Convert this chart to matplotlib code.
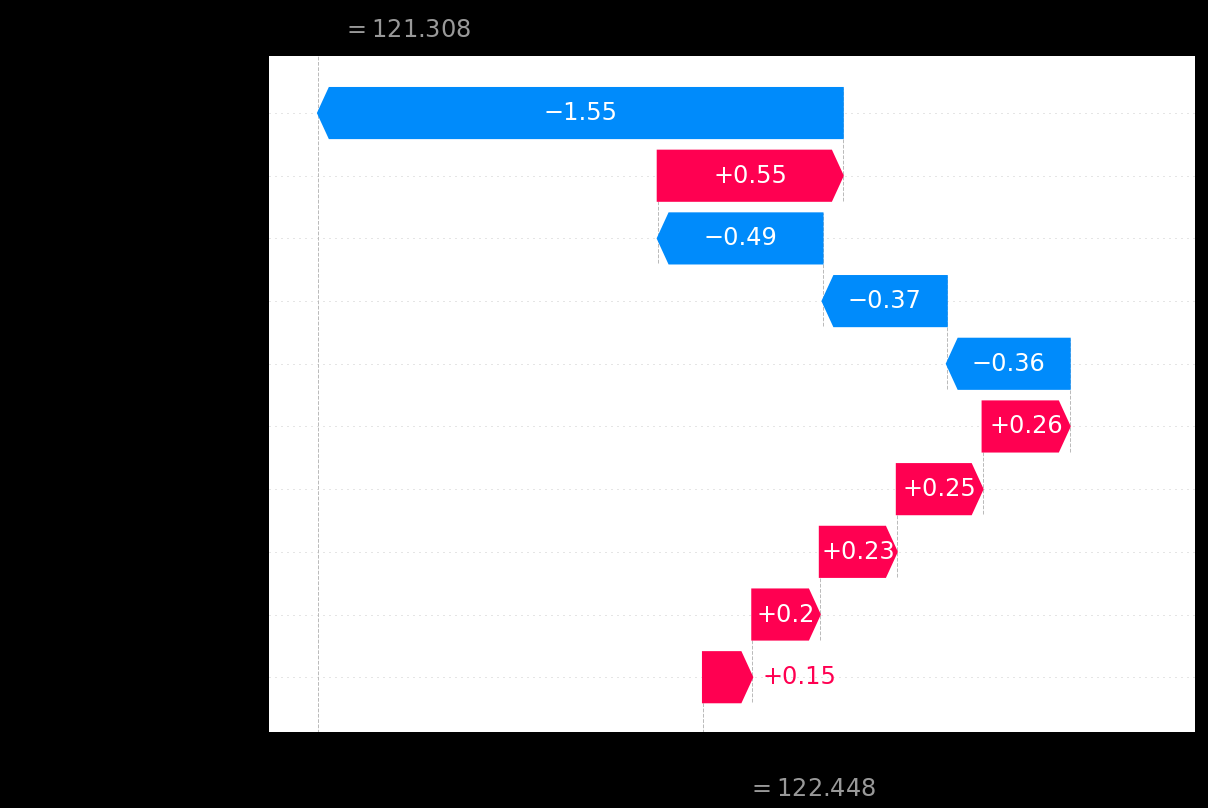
import matplotlib
matplotlib.use('Agg')
import matplotlib.pyplot as plt
import matplotlib.transforms as mtransforms
import numpy as np

FEATURE_NAMES = ['Feature 7', 'Feature 25', 'Feature 5', 'Feature 24', 'Feature 9',
                 'Feature 4', 'Feature 19', 'Feature 18', 'Feature 3', '21 other features']
# bar lengths (labels round them to 2 decimals)
SHAP_VALUES = [-1.554, 0.548, -0.488, -0.368, -0.364, 0.258, 0.254, 0.228, 0.2, 0.146]
BASE_VALUE = 122.448   # E[f(X)]
FX_VALUE = 121.308     # f(x)

# --- Style ---
RED = '#ff0051'
BLUE = '#008bfb'
DPI = 144
X_LIMITS = (121.163, 123.905)


def format_value(v, fmt):
    s = fmt % v
    if '.' in s:
        s = s.rstrip('0')
        if s.endswith('.'):
            s = s[:-1]
    return s.replace('-', '\u2212')


fig = plt.figure(figsize=(1208 / DPI, 808 / DPI), dpi=DPI, facecolor='black')
ax = fig.add_axes([269 / 1208, 75 / 808, 926 / 1208, 677 / 808])

num_rows = len(FEATURE_NAMES)
# top feature is drawn on the highest row
rows = np.arange(num_rows)[::-1]
values = np.array(SHAP_VALUES)

# bars start from the base value at the bottom and stack upward
starts = np.zeros(num_rows)
loc = BASE_VALUE
for i in range(num_rows - 1, -1, -1):
    starts[i] = loc
    loc += values[i]
fx_pos = loc

ax.set_xlim(*X_LIMITS)
ax.set_ylim(-0.89, num_rows - 1 + 0.91)

# horizontal dotted guides
for r in rows:
    ax.axhline(r, color='#cccccc', lw=0.5, dashes=(1, 5), zorder=-1)

# arrow geometry
bar_width = 0.8
head_length = 0.08
xlen = X_LIMITS[1] - X_LIMITS[0]
bbox = ax.get_window_extent().transformed(fig.dpi_scale_trans.inverted())
bbox_to_xscale = xlen / bbox.width
hl_scaled = bbox_to_xscale * head_length
renderer = fig.canvas.get_renderer()

for i in range(num_rows):
    v = values[i]
    dist = abs(v)
    color = RED if v > 0 else BLUE
    direction = 1 if v > 0 else -1
    arrow_obj = ax.arrow(starts[i], rows[i], direction * max(dist - hl_scaled, 0.000001), 0,
                         head_length=min(dist, hl_scaled), color=color,
                         width=bar_width, head_width=bar_width)

    label = format_value(v, '%+0.02f')
    txt_obj = ax.text(starts[i] + 0.5 * v, rows[i], label, ha='center', va='center',
                      color='white', fontsize=12)
    text_bbox = txt_obj.get_window_extent(renderer=renderer)
    arrow_bbox = arrow_obj.get_window_extent(renderer=renderer)
    # text does not fit: put it after the arrow tip
    if text_bbox.width > arrow_bbox.width:
        txt_obj.remove()
        if v > 0:
            ax.text(starts[i] + v + (5 / 72) * bbox_to_xscale, rows[i], label,
                    ha='left', va='center', color=color, fontsize=12)
        else:
            ax.text(starts[i] + v - (5 / 72) * bbox_to_xscale, rows[i], label,
                    ha='right', va='center', color=color, fontsize=12)

    # dashed connector between this bar and the one below
    if i < num_rows - 1:
        ax.plot([starts[i], starts[i]], [rows[i] - 1 - 0.4, rows[i] + 0.4],
                color='#bbbbbb', linestyle='--', linewidth=0.5, zorder=-1)

# base value and f(x) lines
ax.axvline(BASE_VALUE, 0, 1 / num_rows, color='#bbbbbb', linestyle='--', linewidth=0.5, zorder=-1)
ax.axvline(fx_pos, 0, 1, color='#bbbbbb', linestyle='--', linewidth=0.5, zorder=-1)

ax.set_yticks(rows)
ax.set_yticklabels(FEATURE_NAMES, fontsize=13)
ax.xaxis.set_ticks_position('bottom')
ax.yaxis.set_ticks_position('none')
for side in ['right', 'top', 'left']:
    ax.spines[side].set_visible(False)
ax.tick_params(labelsize=13)
# numeric x labels are not visible in the reference (dark on dark)
ax.set_xticklabels([])

# E[f(X)] tick label (ends up on the bottom once ax3 is twinned off ax2)
ax2 = ax.twiny()
ax2.set_xlim(*X_LIMITS)
ax2.set_xticks([BASE_VALUE, BASE_VALUE + 1e-8])
ax2.set_xticklabels(['\n$E[f(X)]$', '\n$ = ' + format_value(BASE_VALUE, '%0.03f') + '$'],
                    fontsize=12, ha='left')
for side in ['right', 'top', 'left']:
    ax2.spines[side].set_visible(False)

# f(x) tick label on top
ax3 = ax2.twiny()
ax3.set_xlim(*X_LIMITS)
ax3.set_xticks([fx_pos, fx_pos + 1e-8])
ax3.set_xticklabels(['$f(x)$', '$ = ' + format_value(FX_VALUE, '%0.03f') + '$'],
                    fontsize=12, ha='left')
tick_labels = ax3.xaxis.get_majorticklabels()
tick_labels[0].set_transform(tick_labels[0].get_transform()
                             + mtransforms.ScaledTranslation(-10 / 72., 0, fig.dpi_scale_trans))
tick_labels[1].set_transform(tick_labels[1].get_transform()
                             + mtransforms.ScaledTranslation(12 / 72., 0, fig.dpi_scale_trans))
tick_labels[1].set_color('#999999')
for side in ['right', 'top', 'left']:
    ax3.spines[side].set_visible(False)

tick_labels = ax2.xaxis.get_majorticklabels()
tick_labels[0].set_transform(tick_labels[0].get_transform()
                             + mtransforms.ScaledTranslation(-20 / 72., 0, fig.dpi_scale_trans))
tick_labels[1].set_transform(tick_labels[1].get_transform()
                             + mtransforms.ScaledTranslation(22 / 72., -1 / 72., fig.dpi_scale_trans))
tick_labels[1].set_color('#999999')

plt.savefig('out.png', dpi=DPI, facecolor='black')
print("Saved out.png")
